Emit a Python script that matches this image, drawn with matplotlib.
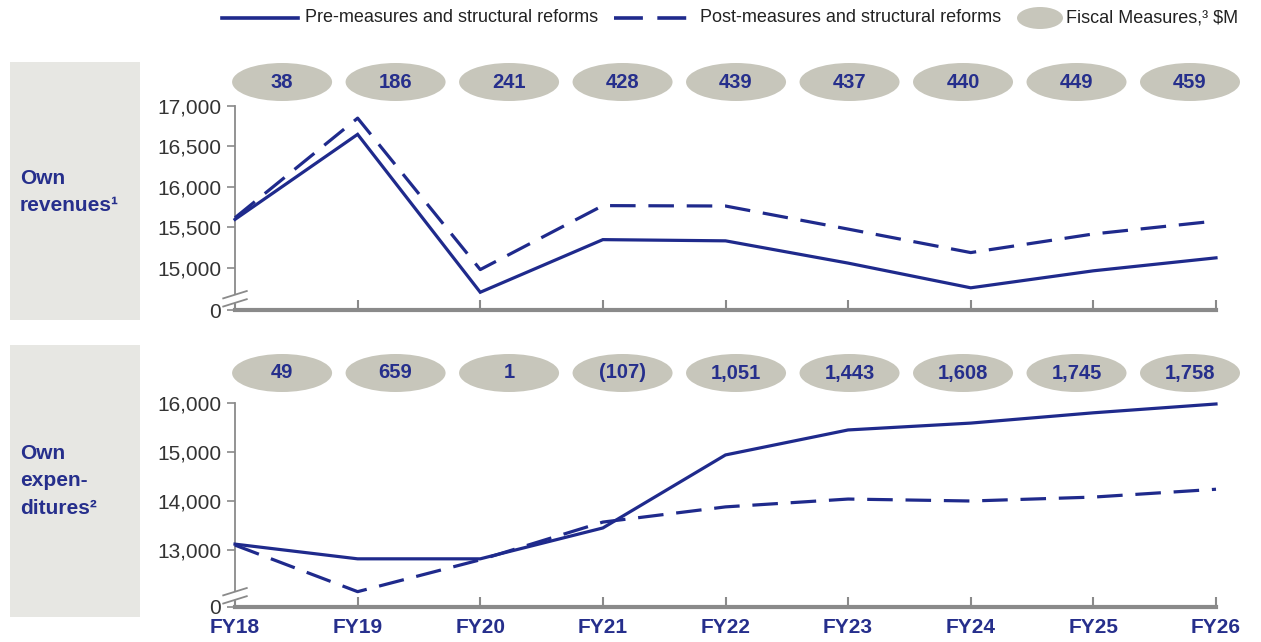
import numpy as np
import matplotlib.pyplot as plt
from matplotlib.patches import Ellipse, Rectangle
from matplotlib.lines import Line2D
from matplotlib.transforms import blended_transform_factory

plt.rcParams['font.family'] = ['Liberation Sans', 'DejaVu Sans']

years = ["FY18", "FY19", "FY20", "FY21", "FY22", "FY23", "FY24", "FY25", "FY26"]

rev_pre = [15600, 16650, 14700, 15350, 15335, 15060, 14755, 14965, 15125]
rev_post = [15620, 16850, 14980, 15770, 15765, 15480, 15190, 15420, 15580]
rev_measures = ["38", "186", "241", "428", "439", "437", "440", "449", "459"]

exp_pre = [13120, 12820, 12820, 13450, 14940, 15450, 15590, 15800, 15980]
exp_post = [13100, 12150, 12800, 13570, 13880, 14040, 14000, 14080, 14240]
exp_measures = ["49", "659", "1", "(107)", "1,051", "1,443", "1,608", "1,745", "1,758"]

rev_ticks = [15000, 15500, 16000, 16500, 17000]
exp_ticks = [13000, 14000, 15000, 16000]

NAVY = "#262f8c"
LINE = "#1f2a8c"
AXIS = "#8a8a8a"
PILL = "#c7c6bb"
BOX = "#e7e7e3"

W, H = 1261, 642
fig = plt.figure(figsize=(W / 100, H / 100), dpi=100)


def fx(px):
    return px / W


def fy(py):
    return 1 - py / H


def panel(top_px, bot_px, pre, post, ticks, ybottom, measures, pill_y, box, label, show_x):
    ax = fig.add_axes([fx(235), fy(bot_px), fx(1216) - fx(235), fy(top_px) - fy(bot_px)])
    x = np.arange(len(years))
    ax.plot(x, pre, color=LINE, lw=2.3, solid_joinstyle="miter", clip_on=False, zorder=3)
    ax.plot(x, post, color=LINE, lw=2.3, dashes=(8, 4), clip_on=False, zorder=3)
    ax.set_xlim(0, len(years) - 1)
    ax.set_ylim(ybottom, ticks[-1])
    ax.set_yticks([ybottom] + ticks)
    ax.set_yticklabels(["0"] + [f"{t:,}" for t in ticks], fontsize=15, color="#333333")
    ax.set_xticks(x)
    if show_x:
        ax.set_xticklabels(years, fontsize=15, fontweight="bold", color=NAVY)
    else:
        ax.set_xticklabels([])
    ax.tick_params(axis="y", direction="out", length=6, width=1.2, color=AXIS, pad=4)
    ax.tick_params(axis="x", direction="in", length=7, width=1.5, color=AXIS, pad=8)
    for s in ["top", "right"]:
        ax.spines[s].set_visible(False)
    ax.spines["left"].set_color(AXIS)
    ax.spines["left"].set_linewidth(1.3)
    ax.spines["bottom"].set_color(AXIS)
    ax.spines["bottom"].set_linewidth(3)
    ax.patch.set_alpha(0)

    # axis break
    ax.add_line(Line2D([-0.005, 0.005], [0.055, 0.055], transform=ax.transAxes,
                       color="white", lw=6, clip_on=False, zorder=5))
    for dy in (0.035, 0.075):
        ax.add_line(Line2D([-0.012, 0.012], [dy - 0.018, dy + 0.018], transform=ax.transAxes,
                           color=AXIS, lw=1.3, clip_on=False, zorder=6))

    # fiscal measure pills
    tr = blended_transform_factory(ax.transAxes, ax.transAxes)
    cx = np.linspace(0.048, 0.9735, len(measures))
    hgt = 38 / (bot_px - top_px)
    for c, m in zip(cx, measures):
        ax.add_patch(Ellipse((c, pill_y), 100 / 981, hgt, transform=tr,
                             facecolor=PILL, edgecolor="none", clip_on=False, zorder=4))
        ax.text(c, pill_y, m, transform=tr, ha="center", va="center",
                fontsize=14.5, fontweight="bold", color=NAVY, zorder=5)

    # left label box
    fig.add_artist(Rectangle((fx(10), fy(box[1])), fx(130), fy(box[0]) - fy(box[1]),
                             transform=fig.transFigure, facecolor=BOX, edgecolor="none", zorder=0))
    fig.text(fx(20), fy(box[2]), label, ha="left", va="center", fontsize=15,
             fontweight="bold", color=NAVY, linespacing=1.55)
    return ax


panel(106, 310, rev_pre, rev_post, rev_ticks, 14481, rev_measures,
      (310 - 82) / 204, (62, 320, 192), "Own\nrevenues\u00b9", False)
panel(403, 607, exp_pre, exp_post, exp_ticks, 11837, exp_measures,
      (607 - 373) / 204, (345, 617, 481), "Own\nexpen-\nditures\u00b2", True)

# legend
fig.add_artist(Line2D([fx(222), fx(298)], [fy(18), fy(18)], color=LINE, lw=2.6))
fig.text(fx(305), fy(18), "Pre-measures and structural reforms", fontsize=13,
         color="#222222", ha="left", va="center")
fig.add_artist(Line2D([fx(614), fx(692)], [fy(18), fy(18)], color=LINE, lw=2.6, dashes=(8, 4)))
fig.text(fx(700), fy(18), "Post-measures and structural reforms", fontsize=13,
         color="#222222", ha="left", va="center")
fig.add_artist(Ellipse((fx(1040), fy(18)), fx(46), 22 / H, transform=fig.transFigure,
                       facecolor=PILL, edgecolor="none"))
fig.text(fx(1066), fy(18), "Fiscal Measures,\u00b3 $M", fontsize=13,
         color="#222222", ha="left", va="center")

fig.savefig("out.png", dpi=100)
